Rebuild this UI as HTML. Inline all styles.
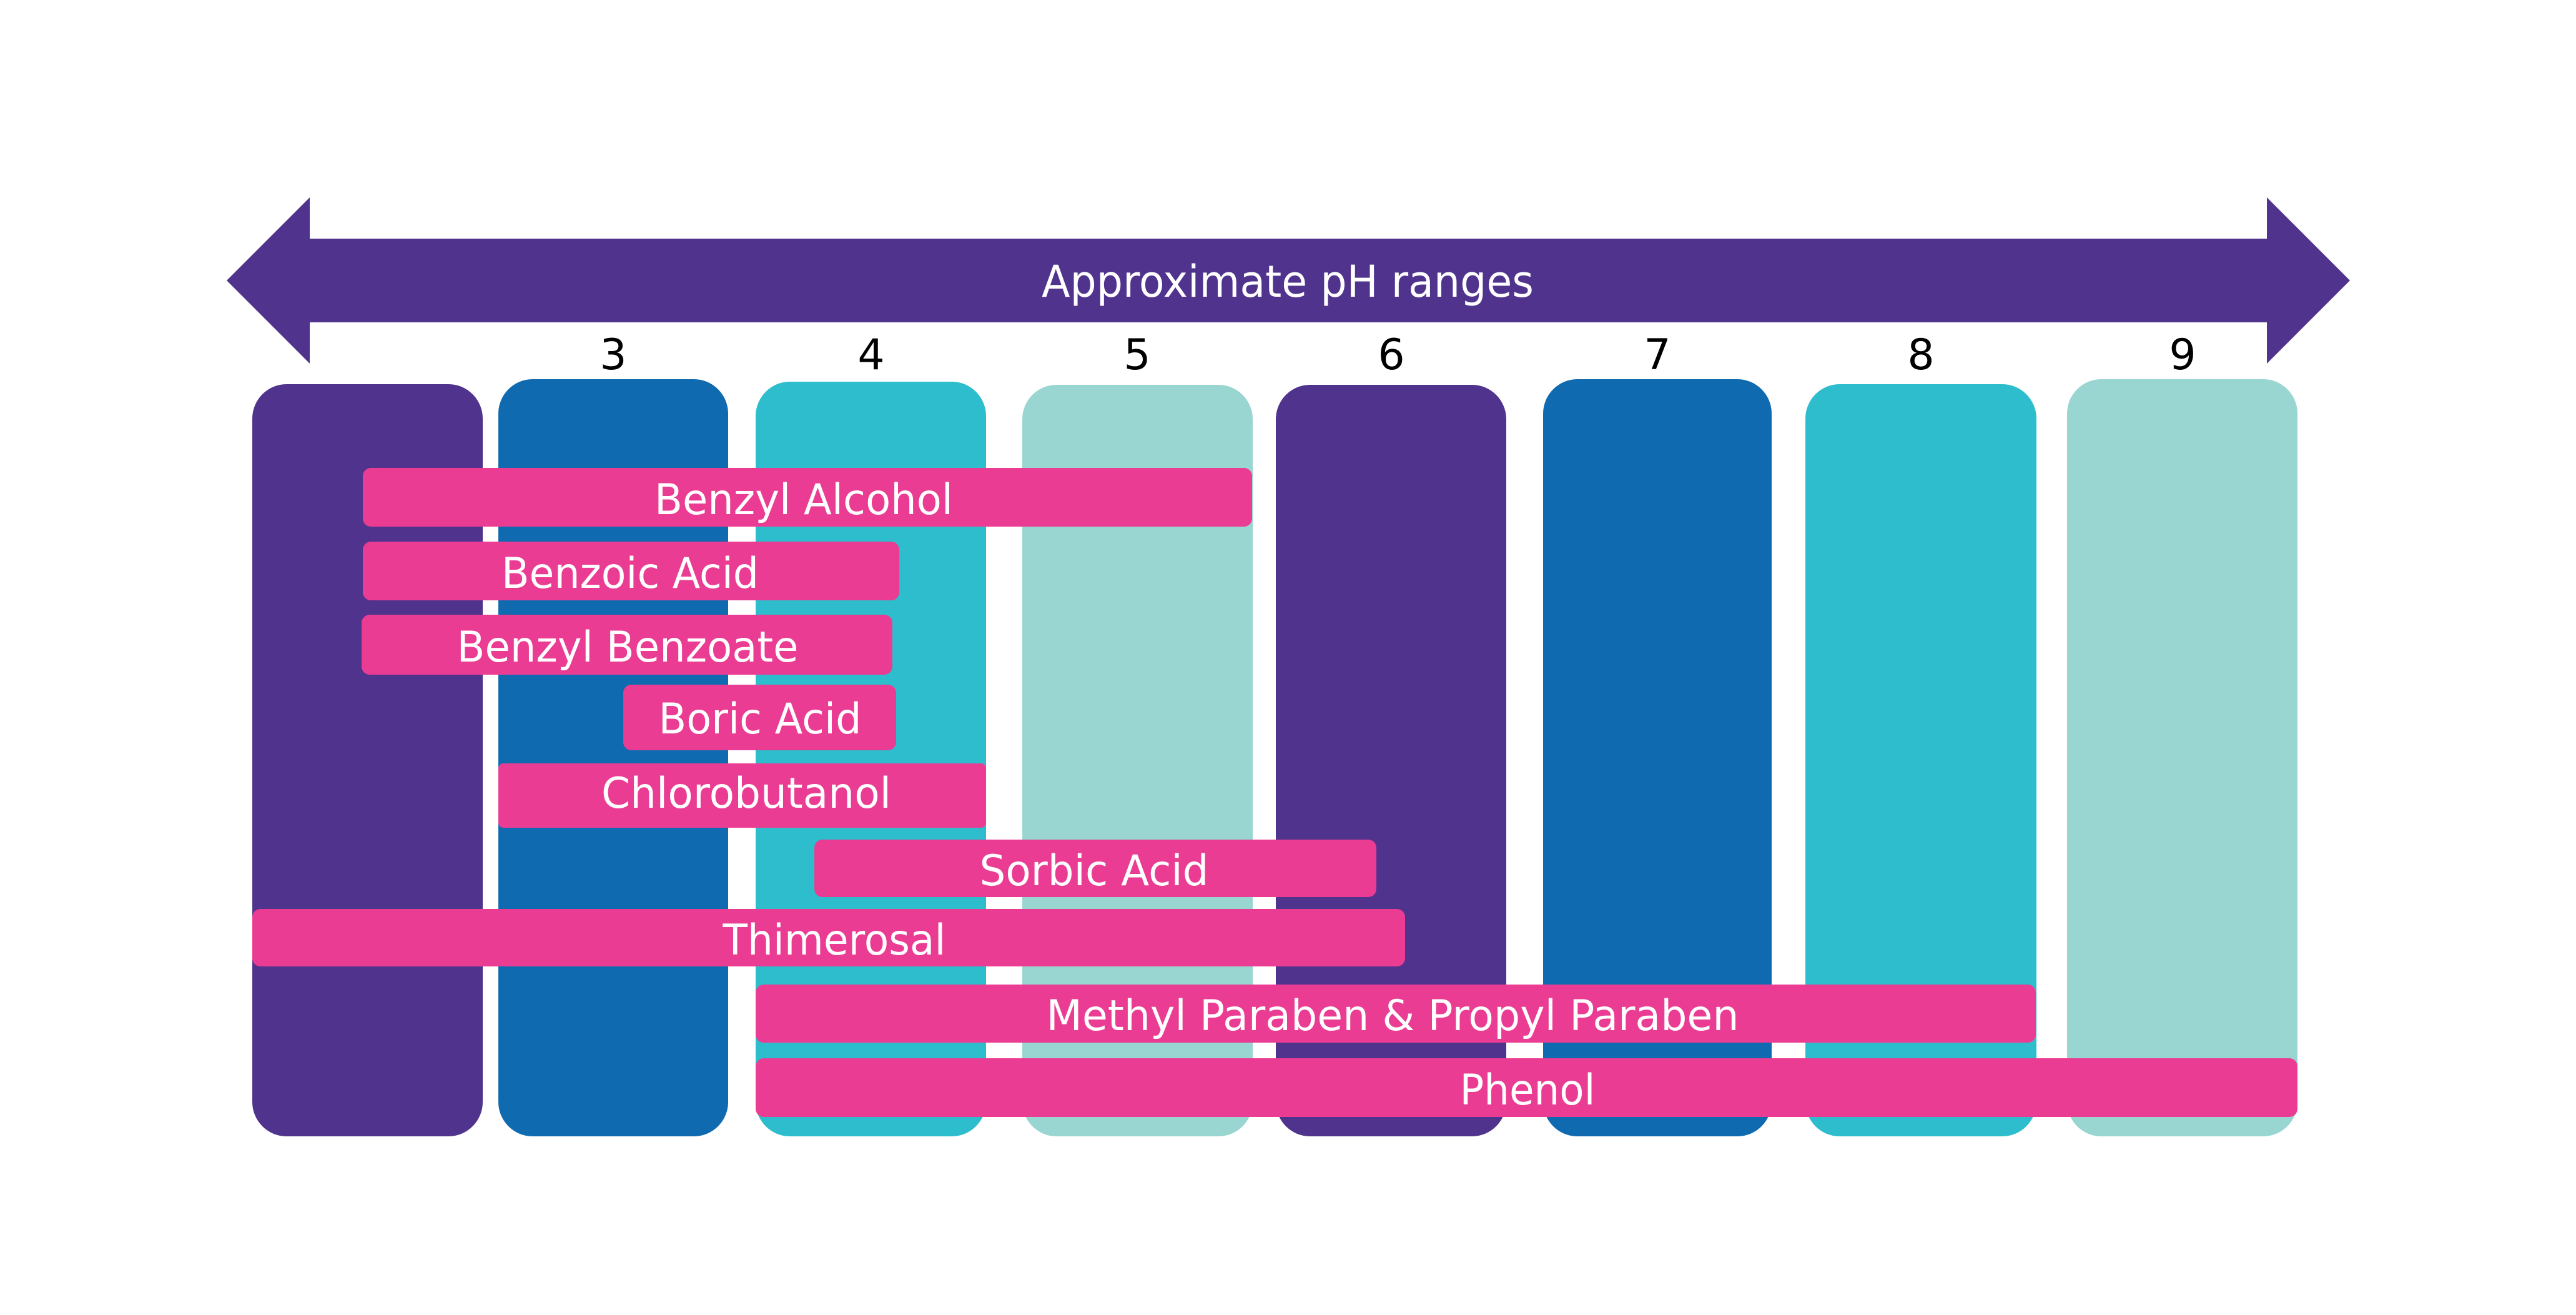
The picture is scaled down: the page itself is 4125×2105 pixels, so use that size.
<!DOCTYPE html>
<html><head><meta charset="utf-8"><style>html,body{margin:0;padding:0;background:#fff}svg{display:block}</style></head>
<body>
<svg xmlns="http://www.w3.org/2000/svg" width="4125" height="2105" viewBox="0 0 4125 2105">
<rect width="4125" height="2105" fill="#fff"/>
<polygon points="363,449 496,316 496,382 3630,382 3630,316 3763,449 3630,582 3630,516 496,516 496,582" fill="#50338d"/>
<text x="2062" y="475" fill="#fff" font-family="'DejaVu Sans','Liberation Sans',sans-serif" font-size="70" text-anchor="middle" textLength="788" lengthAdjust="spacingAndGlyphs">Approximate pH ranges</text>
<g font-family="'DejaVu Sans','Liberation Sans',sans-serif" font-size="68" fill="#000" text-anchor="middle">
<text x="982" y="591">3</text><text x="1395" y="591">4</text><text x="1821" y="591">5</text><text x="2228" y="591">6</text><text x="2654" y="591">7</text><text x="3076" y="591">8</text><text x="3495" y="591">9</text>
</g>
<rect x="404" y="615" width="369" height="1204" rx="55" fill="#50338d"/>
<rect x="798" y="607" width="368" height="1212" rx="55" fill="#106aaf"/>
<rect x="1210" y="611" width="369" height="1208" rx="55" fill="#2dbdcc"/>
<rect x="1637" y="616" width="369" height="1203" rx="55" fill="#99d6d1"/>
<rect x="2043" y="616" width="369" height="1203" rx="55" fill="#50338d"/>
<rect x="2471" y="607" width="366" height="1212" rx="55" fill="#106aaf"/>
<rect x="2891" y="615" width="370" height="1204" rx="55" fill="#2dbdcc"/>
<rect x="3310" y="607" width="369" height="1212" rx="55" fill="#99d6d1"/>
<g fill="#ea3c93">
<rect x="581" y="749" width="1424" height="94" rx="13"/>
<rect x="581" y="867" width="859" height="94" rx="13"/>
<rect x="579" y="984" width="850" height="96" rx="13"/>
<rect x="998" y="1096" width="437" height="105" rx="13"/>
<rect x="798" y="1222" width="781" height="103" rx="8"/>
<rect x="1304" y="1344" width="900" height="92" rx="13"/>
<rect x="404" y="1455" width="1846" height="92" rx="13"/>
<rect x="1210" y="1576" width="2050" height="93" rx="13"/>
<rect x="1210" y="1694" width="2469" height="94" rx="13"/>
</g>
<g font-family="'DejaVu Sans','Liberation Sans',sans-serif" font-size="68" fill="#fff" text-anchor="middle">
<text x="1287" y="823" textLength="478" lengthAdjust="spacingAndGlyphs">Benzyl Alcohol</text>
<text x="1009" y="941" textLength="412" lengthAdjust="spacingAndGlyphs">Benzoic Acid</text>
<text x="1005" y="1059" textLength="547" lengthAdjust="spacingAndGlyphs">Benzyl Benzoate</text>
<text x="1217" y="1174" textLength="325" lengthAdjust="spacingAndGlyphs">Boric Acid</text>
<text x="1195" y="1293" textLength="464" lengthAdjust="spacingAndGlyphs">Chlorobutanol</text>
<text x="1752" y="1417" textLength="367" lengthAdjust="spacingAndGlyphs">Sorbic Acid</text>
<text x="1336" y="1528" textLength="357" lengthAdjust="spacingAndGlyphs">Thimerosal</text>
<text x="2230" y="1649" textLength="1109" lengthAdjust="spacingAndGlyphs">Methyl Paraben &amp; Propyl Paraben</text>
<text x="2446" y="1768" textLength="217" lengthAdjust="spacingAndGlyphs">Phenol</text>
</g>
</svg>
</body></html>
